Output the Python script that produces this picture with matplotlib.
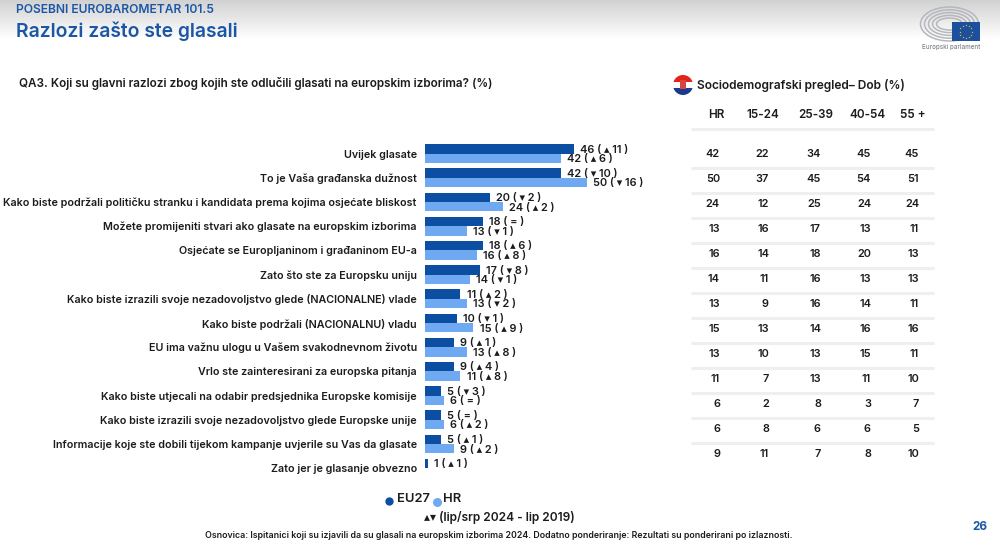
import numpy as np
import matplotlib
matplotlib.use("Agg")
import matplotlib.pyplot as plt
from matplotlib.patches import Circle, Rectangle, Ellipse

FONT = ['Inter', 'DejaVu Sans']
plt.rcParams['font.family'] = FONT

categories = ["Uvijek glasate", "To je Vaša građanska dužnost",
              "Kako biste podržali političku stranku i kandidata prema kojima osjećate bliskost",
              "Možete promijeniti stvari ako glasate na europskim izborima",
              "Osjećate se Europljaninom i građaninom EU-a",
              "Zato što ste za Europsku uniju",
              "Kako biste izrazili svoje nezadovoljstvo glede (NACIONALNE) vlade",
              "Kako biste podržali (NACIONALNU) vladu",
              "EU ima važnu ulogu u Vašem svakodnevnom životu",
              "Vrlo ste zainteresirani za europska pitanja",
              "Kako biste utjecali na odabir predsjednika Europske komisije",
              "Kako biste izrazili svoje nezadovoljstvo glede Europske unije",
              "Informacije koje ste dobili tijekom kampanje uvjerile su Vas da glasate",
              "Zato jer je glasanje obvezno"]
eu27 = [46, 42, 20, 18, 18, 17, 11, 10, 9, 9, 5, 5, 5, 1]
hr = [42, 50, 24, 13, 16, 14, 13, 15, 13, 11, 6, 6, 9, None]
eu27_change = ["▴ 11", "▾ 10", "▾ 2", "=", "▴ 6", "▾ 8", "▴ 2", "▾ 1", "▴ 1", "▴ 4", "▾ 3", "=", "▴ 1", "▴ 1"]
hr_change = ["▴ 6", "▾ 16", "▴ 2", "▾ 1", "▴ 8", "▾ 1", "▾ 2", "▴ 9", "▴ 8", "▴ 8", "=", "▴ 2", "▴ 2", None]

table_headers = ["HR", "15-24", "25-39", "40-54", "55 +"]
table_hr = [42, 50, 24, 13, 16, 14, 13, 15, 13, 11, 6, 6, 9]
table_15_24 = [22, 37, 12, 16, 14, 11, 9, 13, 10, 7, 2, 8, 11]
table_25_39 = [34, 45, 25, 17, 18, 16, 16, 14, 13, 13, 8, 6, 7]
table_40_54 = [45, 54, 24, 13, 20, 13, 14, 16, 15, 11, 3, 6, 8]
table_55 = [45, 51, 24, 11, 13, 13, 11, 16, 11, 10, 7, 5, 10]

DARK = "#0b4ea2"
LIGHT = "#6fa9f2"
BLUE = "#1c57a5"
INK = "#1c1c1e"

W, H = 1000, 553
fig = plt.figure(figsize=(W / 100, H / 100), dpi=100, facecolor="white")

# full-page layer in pixel coordinates
bg = fig.add_axes([0, 0, 1, 1], zorder=0)
bg.axis("off")

grad = np.linspace(0.82, 1.0, 40).reshape(-1, 1)
bg.imshow(grad, extent=(0, W, 40, 0), cmap="gray", vmin=0, vmax=1, aspect="auto", zorder=0)
bg.set_xlim(0, W)
bg.set_ylim(H, 0)


def T(x, y, s, size=7, weight=600, color=INK, ha="left", va="center"):
    return bg.text(x, y, s, fontsize=size, fontweight=weight, color=color, ha=ha, va=va, zorder=5)


T(16, 10, "POSEBNI EUROBAROMETAR 101.5", size=8.7, color=BLUE)
T(16, 31, "Razlozi zašto ste glasali", size=13.9, color=BLUE)
T(19, 84, "QA3. Koji su glavni razlozi zbog kojih ste odlučili glasati na europskim izborima? (%)", size=8.45)
T(697, 85, "Sociodemografski pregled– Dob (%)", size=8.6)

# Croatian flag badge
clip = Circle((683, 85), 10, transform=bg.transData)
for y0, c in [(75, "#e2231a"), (81.7, "white"), (88.3, "#1a3a8f")]:
    r = Rectangle((672, y0), 22, 6.7, color=c, zorder=3, lw=0)
    bg.add_patch(r)
    r.set_clip_path(clip)
bg.add_patch(Rectangle((680.3, 80), 5.4, 8.5, color="#d8453c", zorder=4, lw=0))

# European Parliament mark
for rx, ry in [(29, 17), (25, 14.2), (21, 11.4), (17, 8.6), (13, 6)]:
    bg.add_patch(Ellipse((949.5, 24), 2 * rx, 2 * ry, fill=False, ec="#b4b7bc", lw=1.1, zorder=3))
bg.add_patch(Rectangle((952, 22), 27.5, 19, color="#1c4f9c", zorder=4, lw=0))
for a in np.deg2rad(np.arange(0, 360, 30)):
    bg.plot(965.7 + 6.2 * np.cos(a), 31.5 + 6.2 * np.sin(a), marker="*", ms=1.6, color="#e8c62c", mew=0, zorder=5)
T(922.5, 46.5, "Europski parlament", size=4.5, weight=500, color="#7f858d")

# table
table_columns = [table_hr, table_15_24, table_25_39, table_40_54, table_55]
header_x = [716, 763, 816, 867, 913]
right_x = [720, 769, 821, 871, 919]
for hx, h in zip(header_x, table_headers):
    T(hx, 115, h, size=8.4, ha="center")
bg.hlines(129, 691, 934, color="#f1efed", lw=2.2, zorder=2)
for i in range(12):
    bg.hlines(168 + 25 * i, 691, 934, color="#f1efed", lw=2.2, zorder=2)
for rx, col in zip(right_x, table_columns):
    for i, v in enumerate(col):
        T(rx, 154 + 25 * i, str(v), size=7.9, ha="right")

# legend and footer
bg.plot(388.5, 501, "o", ms=6, color=DARK, mew=0, zorder=5)
bg.plot(437, 501.5, "o", ms=6.5, color=LIGHT, mew=0, zorder=5)
T(397.5, 498.5, "EU27", size=9.3)
T(443, 498.5, "HR", size=9.3)
T(424, 517.5, "▴▾ (lip/srp 2024 - lip 2019)", size=8.6)
T(498.5, 536, "Osnovica: Ispitanici koji su izjavili da su glasali na europskim izborima 2024. "
              "Dodatno ponderiranje: Rezultati su ponderirani po izlaznosti.", size=6.33, ha="center")
T(980, 526.5, "26", size=8.5, weight=700, color=BLUE, ha="center")

# bars: 3.25 px per percentage point, rows 24.2 px apart
left, top, row_h, scale = 424.5, 141.5, 24.2, 3.25
ax_w = 260
ax = fig.add_axes([left / W, 1 - (top + 14 * row_h) / H, ax_w / W, 14 * row_h / H], zorder=1)
ax.patch.set_alpha(0)
ax.set_xlim(0, ax_w / scale)
ax.set_ylim(13.5, -0.5)
for s in ax.spines.values():
    s.set_visible(False)
ax.set_xticks([])
ax.set_yticks(range(len(categories)))
ax.set_yticklabels(categories, fontsize=7.72, fontweight=600, color=INK)
ax.tick_params(axis="y", length=0, pad=5.5)

bh = 0.39
pos = np.arange(len(categories))
hr_vals = [np.nan if v is None else v for v in hr]
ax.barh(pos - bh / 2, eu27, height=bh, color=DARK, lw=0)
ax.barh(pos + bh / 2, hr_vals, height=bh, color=LIGHT, lw=0)


def lab(v, c, y):
    ax.annotate(f"{v} ( {c} )", (v, y), xytext=(4.6, 0), textcoords="offset points",
                va="center", ha="left", fontsize=7.9, fontweight=600, color=INK,
                annotation_clip=False)


for i in pos:
    lab(eu27[i], eu27_change[i], i - bh / 2 + 0.03)
    if hr[i] is not None:
        lab(hr[i], hr_change[i], i + bh / 2 + 0.04)

fig.savefig("out.png", dpi=100)
